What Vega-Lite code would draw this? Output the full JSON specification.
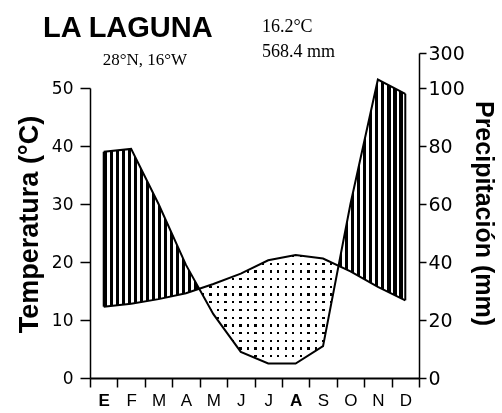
{
"$schema": "https://vega.github.io/schema/vega-lite/v6.json",
"width": 329, "height": 325,
"autosize": "none",
"padding": {"left": 90, "top": 53, "right": 83, "bottom": 35},
"background": "white",
"title": {"text": "LA LAGUNA", "anchor": "start", "frame": "group", "dx": -47, "dy": 25, "offset": 0, "font": "Liberation Sans", "fontSize": 29, "fontWeight": "bold", "color": "black"},
"data": {"values": [
{"m": 1, "T": 12.3, "P": 78},
{"m": 2, "T": 12.8, "P": 79},
{"m": 3, "T": 13.6, "P": 60},
{"m": 4, "T": 14.6, "P": 39},
{"m": 5, "T": 16.2, "P": 22},
{"m": 6, "T": 18.0, "P": 9},
{"m": 7, "T": 20.3, "P": 5},
{"m": 8, "T": 21.2, "P": 5},
{"m": 9, "T": 20.6, "P": 11},
{"m": 10, "T": 18.4, "P": 60},
{"m": 11, "T": 15.7, "P": 148},
{"m": 12, "T": 13.4, "P": 98}
]},
"encoding": {
"x": {"field": "m", "type": "ordinal", "bandPosition": 0.5,
"scale": {"type": "band", "paddingInner": 0, "paddingOuter": 0},
"axis": {"title": null, "orient": "bottom", "tickBand": "extent", "labelAngle": 0,
"labelExpr": "['E','F','M','A','M','J','J','A','S','O','N','D'][datum.value-1]",
"labelFont": "Liberation Sans", "labelFontSize": 17, "labelColor": "black", "labelPadding": 5,
"labelFontWeight": {"condition": {"test": "datum.value == 1 || datum.value == 8", "value": "bold"}, "value": "normal"},
"tickSize": 9, "tickColor": "black", "tickWidth": 1.5, "domainColor": "black", "domainWidth": 1.8, "zindex": 1}}
},
"layer": [
{"mark": {"type": "area", "fill": "black"},
"encoding": {"y": {"field": "P", "type": "quantitative", "scale": {"domain": [0, 100, 300], "range": [325, 35, 0], "nice": false, "zero": false}, "axis": null}, "y2": {"datum": 0}}},
{"mark": {"type": "area", "fill": "white", "blend": "difference"},
"encoding": {"y": {"field": "T", "type": "quantitative", "scale": {"domain": [0, 50], "range": [325, 35], "nice": false, "zero": false}, "axis": null}, "y2": {"datum": 0}}},
{"mark": {"type": "area", "blend": "lighten", "fill": {"gradient": "linear", "x1": 0, "y1": 0, "x2": 1, "y2": 0, "stops": [
{"offset":0,"color":"#000"},{"offset":0.0075,"color":"#000"},{"offset":0.0075,"color":"#fff"},{"offset":0.025,"color":"#fff"},
{"offset":0.025,"color":"#000"},{"offset":0.0325,"color":"#000"},{"offset":0.0325,"color":"#fff"},{"offset":0.05,"color":"#fff"},
{"offset":0.05,"color":"#000"},{"offset":0.0575,"color":"#000"},{"offset":0.0575,"color":"#fff"},{"offset":0.075,"color":"#fff"},
{"offset":0.075,"color":"#000"},{"offset":0.0825,"color":"#000"},{"offset":0.0825,"color":"#fff"},{"offset":0.1,"color":"#fff"},
{"offset":0.1,"color":"#000"},{"offset":0.1075,"color":"#000"},{"offset":0.1075,"color":"#fff"},{"offset":0.125,"color":"#fff"},
{"offset":0.125,"color":"#000"},{"offset":0.1325,"color":"#000"},{"offset":0.1325,"color":"#fff"},{"offset":0.15,"color":"#fff"},
{"offset":0.15,"color":"#000"},{"offset":0.1575,"color":"#000"},{"offset":0.1575,"color":"#fff"},{"offset":0.175,"color":"#fff"},
{"offset":0.175,"color":"#000"},{"offset":0.1825,"color":"#000"},{"offset":0.1825,"color":"#fff"},{"offset":0.2,"color":"#fff"},
{"offset":0.2,"color":"#000"},{"offset":0.2075,"color":"#000"},{"offset":0.2075,"color":"#fff"},{"offset":0.225,"color":"#fff"},
{"offset":0.225,"color":"#000"},{"offset":0.2325,"color":"#000"},{"offset":0.2325,"color":"#fff"},{"offset":0.25,"color":"#fff"},
{"offset":0.25,"color":"#000"},{"offset":0.2575,"color":"#000"},{"offset":0.2575,"color":"#fff"},{"offset":0.275,"color":"#fff"},
{"offset":0.275,"color":"#000"},{"offset":0.2825,"color":"#000"},{"offset":0.2825,"color":"#fff"},{"offset":0.3,"color":"#fff"},
{"offset":0.3,"color":"#000"},{"offset":0.3075,"color":"#000"},{"offset":0.3075,"color":"#fff"},{"offset":0.325,"color":"#fff"},
{"offset":0.325,"color":"#000"},{"offset":0.3325,"color":"#000"},{"offset":0.3325,"color":"#fff"},{"offset":0.35,"color":"#fff"},
{"offset":0.35,"color":"#000"},{"offset":0.3575,"color":"#000"},{"offset":0.3575,"color":"#fff"},{"offset":0.375,"color":"#fff"},
{"offset":0.375,"color":"#000"},{"offset":0.3825,"color":"#000"},{"offset":0.3825,"color":"#fff"},{"offset":0.4,"color":"#fff"},
{"offset":0.4,"color":"#000"},{"offset":0.4075,"color":"#000"},{"offset":0.4075,"color":"#fff"},{"offset":0.425,"color":"#fff"},
{"offset":0.425,"color":"#000"},{"offset":0.4325,"color":"#000"},{"offset":0.4325,"color":"#fff"},{"offset":0.45,"color":"#fff"},
{"offset":0.45,"color":"#000"},{"offset":0.4575,"color":"#000"},{"offset":0.4575,"color":"#fff"},{"offset":0.475,"color":"#fff"},
{"offset":0.475,"color":"#000"},{"offset":0.4825,"color":"#000"},{"offset":0.4825,"color":"#fff"},{"offset":0.5,"color":"#fff"},
{"offset":0.5,"color":"#000"},{"offset":0.5075,"color":"#000"},{"offset":0.5075,"color":"#fff"},{"offset":0.525,"color":"#fff"},
{"offset":0.525,"color":"#000"},{"offset":0.5325,"color":"#000"},{"offset":0.5325,"color":"#fff"},{"offset":0.55,"color":"#fff"},
{"offset":0.55,"color":"#000"},{"offset":0.5575,"color":"#000"},{"offset":0.5575,"color":"#fff"},{"offset":0.575,"color":"#fff"},
{"offset":0.575,"color":"#000"},{"offset":0.5825,"color":"#000"},{"offset":0.5825,"color":"#fff"},{"offset":0.6,"color":"#fff"},
{"offset":0.6,"color":"#000"},{"offset":0.6075,"color":"#000"},{"offset":0.6075,"color":"#fff"},{"offset":0.625,"color":"#fff"},
{"offset":0.625,"color":"#000"},{"offset":0.6325,"color":"#000"},{"offset":0.6325,"color":"#fff"},{"offset":0.65,"color":"#fff"},
{"offset":0.65,"color":"#000"},{"offset":0.6575,"color":"#000"},{"offset":0.6575,"color":"#fff"},{"offset":0.675,"color":"#fff"},
{"offset":0.675,"color":"#000"},{"offset":0.6825,"color":"#000"},{"offset":0.6825,"color":"#fff"},{"offset":0.7,"color":"#fff"},
{"offset":0.7,"color":"#000"},{"offset":0.7075,"color":"#000"},{"offset":0.7075,"color":"#fff"},{"offset":0.725,"color":"#fff"},
{"offset":0.725,"color":"#000"},{"offset":0.7325,"color":"#000"},{"offset":0.7325,"color":"#fff"},{"offset":0.75,"color":"#fff"},
{"offset":0.75,"color":"#000"},{"offset":0.7575,"color":"#000"},{"offset":0.7575,"color":"#fff"},{"offset":0.775,"color":"#fff"},
{"offset":0.775,"color":"#000"},{"offset":0.7825,"color":"#000"},{"offset":0.7825,"color":"#fff"},{"offset":0.8,"color":"#fff"},
{"offset":0.8,"color":"#000"},{"offset":0.8075,"color":"#000"},{"offset":0.8075,"color":"#fff"},{"offset":0.825,"color":"#fff"},
{"offset":0.825,"color":"#000"},{"offset":0.8325,"color":"#000"},{"offset":0.8325,"color":"#fff"},{"offset":0.85,"color":"#fff"},
{"offset":0.85,"color":"#000"},{"offset":0.8575,"color":"#000"},{"offset":0.8575,"color":"#fff"},{"offset":0.875,"color":"#fff"},
{"offset":0.875,"color":"#000"},{"offset":0.8825,"color":"#000"},{"offset":0.8825,"color":"#fff"},{"offset":0.9,"color":"#fff"},
{"offset":0.9,"color":"#000"},{"offset":0.9075,"color":"#000"},{"offset":0.9075,"color":"#fff"},{"offset":0.925,"color":"#fff"},
{"offset":0.925,"color":"#000"},{"offset":0.9325,"color":"#000"},{"offset":0.9325,"color":"#fff"},{"offset":0.95,"color":"#fff"},
{"offset":0.95,"color":"#000"},{"offset":0.9575,"color":"#000"},{"offset":0.9575,"color":"#fff"},{"offset":0.975,"color":"#fff"},
{"offset":0.975,"color":"#000"},{"offset":0.9825,"color":"#000"},{"offset":0.9825,"color":"#fff"},{"offset":1,"color":"#fff"}
]}},
"encoding": {"y": {"field": "T", "type": "quantitative", "scale": {"domain": [0, 50], "range": [325, 35], "nice": false, "zero": false}, "axis": null}, "y2": {"datum": 0}}},
{"mark": {"type": "area", "blend": "lighten", "fill": {"gradient": "linear", "x1": 0, "y1": 0, "x2": 0, "y2": 1, "stops": [
{"offset":0,"color":"#000"},{"offset":0.01875,"color":"#000"},{"offset":0.01875,"color":"#fff"},{"offset":0.0625,"color":"#fff"},
{"offset":0.0625,"color":"#000"},{"offset":0.08125,"color":"#000"},{"offset":0.08125,"color":"#fff"},{"offset":0.125,"color":"#fff"},
{"offset":0.125,"color":"#000"},{"offset":0.14375,"color":"#000"},{"offset":0.14375,"color":"#fff"},{"offset":0.1875,"color":"#fff"},
{"offset":0.1875,"color":"#000"},{"offset":0.20625,"color":"#000"},{"offset":0.20625,"color":"#fff"},{"offset":0.25,"color":"#fff"},
{"offset":0.25,"color":"#000"},{"offset":0.26875,"color":"#000"},{"offset":0.26875,"color":"#fff"},{"offset":0.3125,"color":"#fff"},
{"offset":0.3125,"color":"#000"},{"offset":0.33125,"color":"#000"},{"offset":0.33125,"color":"#fff"},{"offset":0.375,"color":"#fff"},
{"offset":0.375,"color":"#000"},{"offset":0.39375,"color":"#000"},{"offset":0.39375,"color":"#fff"},{"offset":0.4375,"color":"#fff"},
{"offset":0.4375,"color":"#000"},{"offset":0.45625,"color":"#000"},{"offset":0.45625,"color":"#fff"},{"offset":0.5,"color":"#fff"},
{"offset":0.5,"color":"#000"},{"offset":0.51875,"color":"#000"},{"offset":0.51875,"color":"#fff"},{"offset":0.5625,"color":"#fff"},
{"offset":0.5625,"color":"#000"},{"offset":0.58125,"color":"#000"},{"offset":0.58125,"color":"#fff"},{"offset":0.625,"color":"#fff"},
{"offset":0.625,"color":"#000"},{"offset":0.64375,"color":"#000"},{"offset":0.64375,"color":"#fff"},{"offset":0.6875,"color":"#fff"},
{"offset":0.6875,"color":"#000"},{"offset":0.70625,"color":"#000"},{"offset":0.70625,"color":"#fff"},{"offset":0.75,"color":"#fff"},
{"offset":0.75,"color":"#000"},{"offset":0.76875,"color":"#000"},{"offset":0.76875,"color":"#fff"},{"offset":0.8125,"color":"#fff"},
{"offset":0.8125,"color":"#000"},{"offset":0.83125,"color":"#000"},{"offset":0.83125,"color":"#fff"},{"offset":0.875,"color":"#fff"},
{"offset":0.875,"color":"#000"},{"offset":0.89375,"color":"#000"},{"offset":0.89375,"color":"#fff"},{"offset":0.9375,"color":"#fff"},
{"offset":0.9375,"color":"#000"},{"offset":0.95625,"color":"#000"},{"offset":0.95625,"color":"#fff"},{"offset":1,"color":"#fff"}
]}},
"encoding": {"y": {"field": "T", "type": "quantitative", "scale": {"domain": [0, 50], "range": [325, 35], "nice": false, "zero": false}, "axis": null}, "y2": {"datum": 0}}},
{"mark": {"type": "area", "blend": "lighten", "fill": {"gradient": "linear", "x1": 0, "y1": 0, "x2": 1, "y2": 0, "stops": [
{"offset":0,"color":"#000"},{"offset":0.011,"color":"#000"},{"offset":0.011,"color":"#fff"},{"offset":0.02,"color":"#fff"},
{"offset":0.02,"color":"#000"},{"offset":0.031,"color":"#000"},{"offset":0.031,"color":"#fff"},{"offset":0.04,"color":"#fff"},
{"offset":0.04,"color":"#000"},{"offset":0.051,"color":"#000"},{"offset":0.051,"color":"#fff"},{"offset":0.06,"color":"#fff"},
{"offset":0.06,"color":"#000"},{"offset":0.071,"color":"#000"},{"offset":0.071,"color":"#fff"},{"offset":0.08,"color":"#fff"},
{"offset":0.08,"color":"#000"},{"offset":0.091,"color":"#000"},{"offset":0.091,"color":"#fff"},{"offset":0.1,"color":"#fff"},
{"offset":0.1,"color":"#000"},{"offset":0.111,"color":"#000"},{"offset":0.111,"color":"#fff"},{"offset":0.12,"color":"#fff"},
{"offset":0.12,"color":"#000"},{"offset":0.131,"color":"#000"},{"offset":0.131,"color":"#fff"},{"offset":0.14,"color":"#fff"},
{"offset":0.14,"color":"#000"},{"offset":0.151,"color":"#000"},{"offset":0.151,"color":"#fff"},{"offset":0.16,"color":"#fff"},
{"offset":0.16,"color":"#000"},{"offset":0.171,"color":"#000"},{"offset":0.171,"color":"#fff"},{"offset":0.18,"color":"#fff"},
{"offset":0.18,"color":"#000"},{"offset":0.191,"color":"#000"},{"offset":0.191,"color":"#fff"},{"offset":0.2,"color":"#fff"},
{"offset":0.2,"color":"#000"},{"offset":0.211,"color":"#000"},{"offset":0.211,"color":"#fff"},{"offset":0.22,"color":"#fff"},
{"offset":0.22,"color":"#000"},{"offset":0.231,"color":"#000"},{"offset":0.231,"color":"#fff"},{"offset":0.24,"color":"#fff"},
{"offset":0.24,"color":"#000"},{"offset":0.251,"color":"#000"},{"offset":0.251,"color":"#fff"},{"offset":0.26,"color":"#fff"},
{"offset":0.26,"color":"#000"},{"offset":0.271,"color":"#000"},{"offset":0.271,"color":"#fff"},{"offset":0.28,"color":"#fff"},
{"offset":0.28,"color":"#000"},{"offset":0.291,"color":"#000"},{"offset":0.291,"color":"#fff"},{"offset":0.3,"color":"#fff"},
{"offset":0.3,"color":"#000"},{"offset":0.311,"color":"#000"},{"offset":0.311,"color":"#fff"},{"offset":0.32,"color":"#fff"},
{"offset":0.32,"color":"#000"},{"offset":0.331,"color":"#000"},{"offset":0.331,"color":"#fff"},{"offset":0.34,"color":"#fff"},
{"offset":0.34,"color":"#000"},{"offset":0.351,"color":"#000"},{"offset":0.351,"color":"#fff"},{"offset":0.36,"color":"#fff"},
{"offset":0.36,"color":"#000"},{"offset":0.371,"color":"#000"},{"offset":0.371,"color":"#fff"},{"offset":0.38,"color":"#fff"},
{"offset":0.38,"color":"#000"},{"offset":0.391,"color":"#000"},{"offset":0.391,"color":"#fff"},{"offset":0.4,"color":"#fff"},
{"offset":0.4,"color":"#000"},{"offset":0.411,"color":"#000"},{"offset":0.411,"color":"#fff"},{"offset":0.42,"color":"#fff"},
{"offset":0.42,"color":"#000"},{"offset":0.431,"color":"#000"},{"offset":0.431,"color":"#fff"},{"offset":0.44,"color":"#fff"},
{"offset":0.44,"color":"#000"},{"offset":0.451,"color":"#000"},{"offset":0.451,"color":"#fff"},{"offset":0.46,"color":"#fff"},
{"offset":0.46,"color":"#000"},{"offset":0.471,"color":"#000"},{"offset":0.471,"color":"#fff"},{"offset":0.48,"color":"#fff"},
{"offset":0.48,"color":"#000"},{"offset":0.491,"color":"#000"},{"offset":0.491,"color":"#fff"},{"offset":0.5,"color":"#fff"},
{"offset":0.5,"color":"#000"},{"offset":0.511,"color":"#000"},{"offset":0.511,"color":"#fff"},{"offset":0.52,"color":"#fff"},
{"offset":0.52,"color":"#000"},{"offset":0.531,"color":"#000"},{"offset":0.531,"color":"#fff"},{"offset":0.54,"color":"#fff"},
{"offset":0.54,"color":"#000"},{"offset":0.551,"color":"#000"},{"offset":0.551,"color":"#fff"},{"offset":0.56,"color":"#fff"},
{"offset":0.56,"color":"#000"},{"offset":0.571,"color":"#000"},{"offset":0.571,"color":"#fff"},{"offset":0.58,"color":"#fff"},
{"offset":0.58,"color":"#000"},{"offset":0.591,"color":"#000"},{"offset":0.591,"color":"#fff"},{"offset":0.6,"color":"#fff"},
{"offset":0.6,"color":"#000"},{"offset":0.611,"color":"#000"},{"offset":0.611,"color":"#fff"},{"offset":0.62,"color":"#fff"},
{"offset":0.62,"color":"#000"},{"offset":0.631,"color":"#000"},{"offset":0.631,"color":"#fff"},{"offset":0.64,"color":"#fff"},
{"offset":0.64,"color":"#000"},{"offset":0.651,"color":"#000"},{"offset":0.651,"color":"#fff"},{"offset":0.66,"color":"#fff"},
{"offset":0.66,"color":"#000"},{"offset":0.671,"color":"#000"},{"offset":0.671,"color":"#fff"},{"offset":0.68,"color":"#fff"},
{"offset":0.68,"color":"#000"},{"offset":0.691,"color":"#000"},{"offset":0.691,"color":"#fff"},{"offset":0.7,"color":"#fff"},
{"offset":0.7,"color":"#000"},{"offset":0.711,"color":"#000"},{"offset":0.711,"color":"#fff"},{"offset":0.72,"color":"#fff"},
{"offset":0.72,"color":"#000"},{"offset":0.731,"color":"#000"},{"offset":0.731,"color":"#fff"},{"offset":0.74,"color":"#fff"},
{"offset":0.74,"color":"#000"},{"offset":0.751,"color":"#000"},{"offset":0.751,"color":"#fff"},{"offset":0.76,"color":"#fff"},
{"offset":0.76,"color":"#000"},{"offset":0.771,"color":"#000"},{"offset":0.771,"color":"#fff"},{"offset":0.78,"color":"#fff"},
{"offset":0.78,"color":"#000"},{"offset":0.791,"color":"#000"},{"offset":0.791,"color":"#fff"},{"offset":0.8,"color":"#fff"},
{"offset":0.8,"color":"#000"},{"offset":0.811,"color":"#000"},{"offset":0.811,"color":"#fff"},{"offset":0.82,"color":"#fff"},
{"offset":0.82,"color":"#000"},{"offset":0.831,"color":"#000"},{"offset":0.831,"color":"#fff"},{"offset":0.84,"color":"#fff"},
{"offset":0.84,"color":"#000"},{"offset":0.851,"color":"#000"},{"offset":0.851,"color":"#fff"},{"offset":0.86,"color":"#fff"},
{"offset":0.86,"color":"#000"},{"offset":0.871,"color":"#000"},{"offset":0.871,"color":"#fff"},{"offset":0.88,"color":"#fff"},
{"offset":0.88,"color":"#000"},{"offset":0.891,"color":"#000"},{"offset":0.891,"color":"#fff"},{"offset":0.9,"color":"#fff"},
{"offset":0.9,"color":"#000"},{"offset":0.911,"color":"#000"},{"offset":0.911,"color":"#fff"},{"offset":0.92,"color":"#fff"},
{"offset":0.92,"color":"#000"},{"offset":0.931,"color":"#000"},{"offset":0.931,"color":"#fff"},{"offset":0.94,"color":"#fff"},
{"offset":0.94,"color":"#000"},{"offset":0.951,"color":"#000"},{"offset":0.951,"color":"#fff"},{"offset":0.96,"color":"#fff"},
{"offset":0.96,"color":"#000"},{"offset":0.971,"color":"#000"},{"offset":0.971,"color":"#fff"},{"offset":0.98,"color":"#fff"},
{"offset":0.98,"color":"#000"},{"offset":0.991,"color":"#000"},{"offset":0.991,"color":"#fff"},{"offset":1,"color":"#fff"}
]}},
"encoding": {"y": {"field": "P", "type": "quantitative", "scale": {"domain": [0, 100, 300], "range": [325, 35, 0], "nice": false, "zero": false}, "axis": null}, "y2": {"datum": 0}}},
{"transform": [{"filter": "datum.m == 1 || datum.m == 12"}],
"mark": {"type": "rule", "color": "black", "strokeWidth": 2},
"encoding": {"y": {"field": "P", "type": "quantitative", "scale": {"domain": [0, 100, 300], "range": [325, 35, 0], "nice": false, "zero": false}, "axis": null}, "y2": {"datum": 0}}},
{"transform": [{"filter": "datum.m == 1 || datum.m == 12"}],
"mark": {"type": "rule", "color": "white", "strokeWidth": 4},
"encoding": {"y": {"field": "T", "type": "quantitative", "scale": {"domain": [0, 50], "range": [325, 35], "nice": false, "zero": false}, "axis": null}, "y2": {"datum": 0}}},
{"mark": {"type": "line", "color": "black", "strokeWidth": 2},
"encoding": {"y": {"field": "T", "type": "quantitative", "scale": {"domain": [0, 50], "range": [325, 35], "nice": false, "zero": false},
"axis": {"orient": "left", "values": [0, 10, 20, 30, 40, 50], "grid": false, "zindex": 1, "labelOverlap": false, "labelFlush": false,
"title": "Temperatura (°C)", "titleFont": "Liberation Sans", "titleFontSize": 27, "titleFontWeight": "bold", "titleColor": "black", "titlePadding": 8, "titleY": 171,
"labelFont": "DejaVu Sans", "labelFontSize": 17, "labelColor": "black", "labelPadding": 7,
"tickSize": 10, "tickColor": "black", "tickWidth": 1.5, "domainColor": "black", "domainWidth": 1.5}}}},
{"mark": {"type": "line", "color": "black", "strokeWidth": 2},
"encoding": {"y": {"field": "P", "type": "quantitative", "scale": {"domain": [0, 100, 300], "range": [325, 35, 0], "nice": false, "zero": false},
"axis": {"orient": "right", "values": [0, 20, 40, 60, 80, 100, 300], "grid": false, "zindex": 1, "labelOverlap": false, "labelFlush": false,
"title": "Precipitación (mm)", "titleFont": "Liberation Sans", "titleFontSize": 25, "titleFontWeight": "bold", "titleColor": "black", "titlePadding": 6, "titleY": 160,
"labelFont": "DejaVu Sans", "labelFontSize": 19, "labelColor": "black", "labelPadding": 2,
"tickSize": 7, "tickColor": "black", "tickWidth": 1.5, "domainColor": "black", "domainWidth": 1.5}}}},
{"data": {"values": [{}]},
"mark": {"type": "text", "text": "16.2°C", "align": "left", "baseline": "alphabetic", "font": "Liberation Serif", "fontSize": 18, "color": "black"},
"encoding": {"x": {"datum": 7, "type": "ordinal", "bandPosition": 0.27}, "y": {"datum": 59.7, "type": "quantitative", "scale": {"domain": [0, 50], "range": [325, 35], "nice": false, "zero": false}, "axis": null}}},
{"data": {"values": [{}]},
"mark": {"type": "text", "text": "568.4 mm", "align": "left", "baseline": "alphabetic", "font": "Liberation Serif", "fontSize": 18, "color": "black"},
"encoding": {"x": {"datum": 7, "type": "ordinal", "bandPosition": 0.27}, "y": {"datum": 55.3, "type": "quantitative", "scale": {"domain": [0, 50], "range": [325, 35], "nice": false, "zero": false}, "axis": null}}},
{"data": {"values": [{}]},
"mark": {"type": "text", "text": "28°N, 16°W", "align": "center", "baseline": "alphabetic", "font": "Liberation Serif", "fontSize": 17, "color": "black"},
"encoding": {"x": {"datum": 3, "type": "ordinal", "bandPosition": 0}, "y": {"datum": 53.9, "type": "quantitative", "scale": {"domain": [0, 50], "range": [325, 35], "nice": false, "zero": false}, "axis": null}}}
],
"resolve": {"scale": {"y": "independent"}, "axis": {"y": "independent"}},
"config": {"view": {"stroke": null}}
}
